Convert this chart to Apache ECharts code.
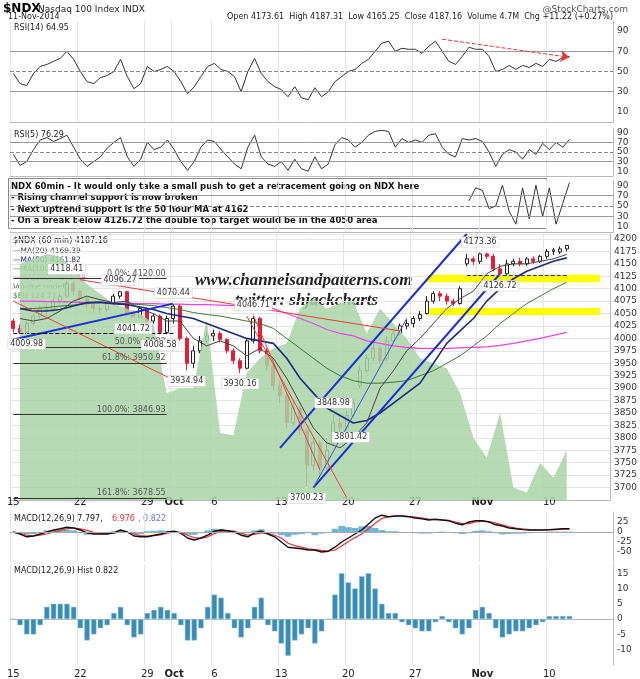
<!DOCTYPE html>
<html><head><meta charset="utf-8">
<script src="https://cdn.jsdelivr.net/npm/echarts@6/dist/echarts.min.js"></script>
<style>html,body{margin:0;padding:0;background:#fff}#c{width:640px;height:679px}</style>
</head><body><div id="c"></div>
<script>
// trading days (two 60-min blocks each drawn as half-day bars)
var days = ['9/15','9/16','9/17','9/18','9/19','9/22','9/23','9/24','9/25','9/26','9/29','9/30','10/1','10/2','10/3',
  '10/6','10/7','10/8','10/9','10/10','10/13','10/14','10/15','10/16','10/17','10/20','10/21','10/22','10/23','10/24',
  '10/27','10/28','10/29','10/30','10/31','11/3','11/4','11/5','11/6','11/7','11/10','11/11','11/12','11/13','11/14'];
var tickLabels = {'9/15':'15','9/22':'22','9/29':'29','10/1':'Oct','10/6':'6','10/13':'13','10/20':'20','10/27':'27','11/3':'Nov','11/10':'10'};

// [open, close, low, high]
var ohlc = [
 [4035,4020,4012,4040],[4020,4012,4010,4028],[4012,4030,4010,4034],[4030,4045,4026,4050],
 [4045,4060,4040,4066],[4060,4055,4045,4070],[4055,4075,4052,4080],[4075,4085,4070,4090],
 [4085,4110,4082,4118],[4110,4095,4088,4115],[4095,4080,4072,4098],[4080,4068,4060,4084],
 [4068,4060,4052,4072],[4060,4058,4050,4066],[4058,4070,4054,4076],[4070,4085,4066,4090],
 [4085,4094,4080,4096],[4094,4050,4045,4096],[4050,4042,4040,4056],[4042,4060,4041,4064],
 [4060,4035,4025,4062],[4035,4045,4030,4050],[4045,4012,4008,4048],[4012,4040,4009,4046],
 [4040,4065,4030,4070],[4065,4000,3995,4068],[4000,3950,3935,4004],[3950,3975,3940,3985],
 [3975,3995,3970,4005],[3995,4005,3990,4012],[4005,4010,3995,4018],[4010,3998,3992,4014],
 [3998,3975,3970,4000],[3975,3955,3948,3980],[3955,3940,3930,3960],[3940,3995,3938,4000],
 [3995,4040,3990,4048],[4040,3975,3970,4044],[3975,3945,3935,3980],[3945,3905,3895,3950],
 [3905,3885,3870,3915],[3885,3830,3820,3890],[3830,3860,3825,3875],[3860,3815,3805,3865],
 [3815,3745,3700,3820],[3745,3790,3735,3801],[3790,3740,3720,3795],[3740,3775,3735,3801],
 [3790,3830,3785,3849],[3830,3820,3800,3840],[3820,3845,3815,3855],[3845,3870,3840,3878],
 [3905,3935,3900,3945],[3935,3960,3930,3968],[3960,3980,3955,3990],[3980,3955,3948,3985],
 [3960,3995,3955,4005],[3995,4010,3990,4020],[4010,4025,4005,4030],[4025,4030,4018,4038],
 [4030,4040,4022,4045],[4040,4048,4035,4055],[4050,4075,4048,4085],[4075,4090,4070,4095],
 [4090,4085,4075,4095],[4085,4075,4068,4090],[4075,4070,4065,4080],[4070,4100,4068,4105],
 [4150,4160,4145,4170],[4160,4155,4148,4165],[4155,4170,4150,4173],[4170,4165,4160,4172],
 [4165,4140,4135,4170],[4140,4130,4127,4150],[4130,4150,4128,4158],[4150,4155,4145,4160],
 [4155,4150,4145,4162],[4150,4160,4146,4164],[4160,4155,4150,4165],[4155,4165,4152,4168],
 [4165,4175,4160,4180],[4175,4178,4168,4182],[4174,4180,4170,4185],[4180,4187,4175,4188]
];
// daily readings
var ma20 = [4040,4035,4040,4055,4075,4085,4078,4072,4075,4060,4050,4035,4035,4000,3985,3995,3985,3965,3980,3960,
  3920,3870,3820,3790,3780,3800,3830,3900,3935,3975,4000,4030,4060,4080,4095,4130,4145,4150,4150,4155,4160,4169];
var ma50 = [4060,4055,4055,4058,4065,4072,4073,4070,4068,4063,4058,4050,4045,4040,4030,4020,4010,4000,3995,3990,
  3960,3920,3890,3860,3845,3830,3835,3850,3870,3890,3910,3950,3990,4015,4040,4075,4100,4120,4135,4145,4155,4162];
var ma100 = [4060,4060,4062,4065,4067,4070,4072,4070,4070,4068,4066,4062,4058,4052,4048,4045,4040,4035,4030,4020,
  4000,3980,3960,3940,3925,3915,3910,3910,3912,3915,3925,3935,3950,3965,3985,4005,4030,4050,4070,4085,4100,4113];
var ma200 = [4075,4075,4074,4074,4073,4072,4072,4071,4071,4070,4070,4069,4069,4068,4068,4067,4066,4066,4065,4060,
  4050,4040,4030,4018,4010,4005,3995,3990,3985,3982,3980,3980,3980,3981,3982,3983,3986,3990,3995,4000,4006,4012];
var euArea = [4150,4160,4170,4165,4140,4110,4090,4070,4060,4050,4030,3890,3900,3900,4040,3810,3805,3930,3960,3980,
  3990,4060,4080,4060,4070,4075,4010,4060,4030,4000,3960,3950,3940,3890,3800,3760,3850,3700,3690,3750,3720,3775];
// half-day readings
var rsi14 = [48,38,36,48,55,57,60,63,70,62,50,40,38,44,46,50,62,45,33,38,55,50,52,55,50,40,28,35,45,55,
  58,52,50,45,30,50,63,48,40,35,32,25,35,24,22,34,25,30,40,45,50,52,58,62,70,78,80,70,73,72,
  72,68,75,80,70,60,57,65,74,72,72,65,50,52,56,52,56,54,58,55,62,60,64,65];
var rsi5 = [45,22,30,55,75,80,72,78,85,60,35,20,30,40,58,70,80,40,20,35,70,55,60,75,55,30,12,30,60,75,
  72,55,40,25,15,60,85,40,25,20,30,12,35,15,10,40,15,25,65,80,75,60,70,85,93,95,93,60,78,70,
  75,70,85,88,60,45,40,78,75,78,72,50,20,45,55,50,35,55,45,68,55,70,60,76];
var rsiBox = [null,null,null,null,null,null,null,null,null,null,null,null,null,null,null,null,null,null,null,null,
  null,null,null,null,null,null,null,null,null,null,null,null,null,null,null,null,null,null,null,null,
  null,null,null,null,null,null,null,null,null,null,null,null,null,null,null,null,null,null,null,null,
  null,null,null,null,null,null,null,null,60,85,80,45,50,90,40,15,85,25,90,30,85,15,55,95];
var macd = [0,-5,-12,-10,-5,0,5,8,12,10,5,-2,-5,-5,-5,-2,5,0,-10,-12,-12,-8,-5,0,2,-3,-15,-20,-15,-8,
  2,5,3,0,-8,-12,-2,2,-5,-12,-25,-38,-40,-42,-45,-45,-50,-48,-38,-25,-15,-5,5,20,35,42,38,40,40,38,
  35,33,30,32,30,28,22,18,25,28,28,25,18,15,10,8,6,5,5,5,6,7,8,8];
var signal = [0,-3,-8,-10,-8,-5,0,4,8,10,8,4,-1,-4,-4,-3,0,0,-5,-9,-10,-9,-7,-3,0,-1,-8,-14,-16,-12,
  -4,2,3,2,-3,-8,-6,-2,-3,-8,-15,-28,-34,-38,-42,-44,-46,-48,-45,-35,-24,-14,-5,8,22,34,38,40,40,39,
  37,35,32,31,30,29,25,21,21,25,27,26,22,18,13,10,8,6,5,5,5,6,7,7];
var hist = [0,-2,-5,-5,-2,4,5,5,5,4,-3,-7,-5,-3,-2,2,4,-2,-6,-5,2,3,4,3,2,-2,-7,-7,-3,4,
  8,7,2,-3,-6,-3,4,7,-2,-4,-8,-12,-7,-5,-3,-8,-4,0,8,15,12,10,14,15,10,5,2,2,-1,-2,
  -3,-4,-4,-1,1,-1,-3,-5,-3,3,4,2,-3,-6,-5,-4,-4,-3,-2,-1,1,1,1,1];

var cats = [];
days.forEach(function (d) { cats.push(d + ' a'); cats.push(d + ' b'); });
function daily(arr) {
    var out = [];
    for (var i = 0; i < cats.length; i++) out.push(null);
    arr.forEach(function (v, i) { out[2 * i + 1] = v; });
    return out;
}
function isTick(idx) {
    var c = cats[idx];
    return c.slice(-1) === 'a' && tickLabels[c.slice(0, -2)] !== undefined;
}
function tickText(v) {
    var t = tickLabels[v.slice(0, -2)];
    return (t === 'Oct' || t === 'Nov') ? '{b|' + t + '}' : t;
}
var grids = [
    {left: 10, right: 27, top: 21, height: 101},
    {left: 10, right: 27, top: 128, height: 48},
    {left: 10, right: 27, top: 180, height: 52},
    {left: 10, right: 27, top: 234, height: 266},
    {left: 10, right: 27, top: 512, height: 50},
    {left: 10, right: 27, top: 564, height: 102}
];
var gridLine = {show: true, lineStyle: {color: '#e4e4e4', width: 1}};
var xAxes = grids.map(function (g, i) {
    var showLab = (i === 4 || i === 5);
    return {
        type: 'category', gridIndex: i, data: cats, boundaryGap: true,
        position: i === 4 ? 'top' : 'bottom',
        axisLine: {lineStyle: {color: '#bbb'}}, axisTick: {show: false},
        axisLabel: {show: showLab, interval: function (idx) { return isTick(idx); }, formatter: tickText,
            fontSize: 10, color: '#222', margin: i === 4 ? 5 : 4, fontFamily: 'DejaVu Sans',
            rich: {b: {fontWeight: 'bold', fontSize: 10}}},
        splitLine: {show: true, interval: function (idx) { return isTick(idx); }, lineStyle: {color: '#e4e4e4'}}
    };
});
function yAx(i, min, max, interval, extra) {
    var a = {
        type: 'value', gridIndex: i, min: min, max: max, interval: interval, position: 'right',
        axisLine: {show: true, lineStyle: {color: '#bbb'}}, axisTick: {show: false},
        axisLabel: {fontSize: 9, color: '#333', margin: 4, showMaxLabel: false, showMinLabel: false,
            formatter: function (v) { return String(v); }},
        splitLine: gridLine
    };
    for (var k in extra) a[k] = extra[k];
    return a;
}
var rsiTicks = {axisLabel: {fontSize: 9, color: '#333', margin: 4, formatter: function (v) {
    return [10, 30, 50, 70, 90].indexOf(v) >= 0 ? v : ''; }}};
var yAxes = [
    yAx(0, 0, 100, 10, rsiTicks),
    yAx(1, 0, 100, 10, rsiTicks),
    yAx(2, 0, 100, 10, rsiTicks),
    yAx(3, 3675, 4210, 25),
    yAx(4, -75, 50, 25),
    yAx(5, -15, 18, 5),
    {type: 'value', gridIndex: 3, min: 3675, max: 4210, show: false}
];
[0, 1, 2, 4, 5].forEach(function (i) { yAxes[i].splitLine = {show: false}; });

function refLines(vals) {
    return {silent: true, symbol: 'none', label: {show: false},
        data: vals.map(function (v) { return {yAxis: v, lineStyle: {color: v === 50 ? '#888' : '#999', type: v === 50 ? 'dashed' : 'solid', width: 1}}; })};
}
var blue = {color: '#1a2fd6', width: 2, type: 'solid'};
var thinBlue = {color: '#3a50e0', width: 1, type: 'solid'};
var red = {color: '#ee3a3a', width: 1, type: 'solid'};
function seg(a, av, b, bv, st) { return [{coord: [a, av], lineStyle: st}, {coord: [b, bv]}]; }
function fib(v, txt) {
    return [{coord: ['9/15 a', v], lineStyle: {color: '#333', width: 1, type: 'solid'},
        label: {show: true, formatter: txt, position: 'insideEndTop', color: '#555', fontSize: 8, distance: 1}}, {coord: ['9/30 b', v]}];
}
function tag(c, v, t, pos) {
    return {coord: [c, v], value: t, symbol: 'rect', symbolSize: [1, 1],
        label: {show: true, formatter: t, position: pos || 'top', fontSize: 8, color: '#333',
            backgroundColor: '#fff', borderColor: '#ccc', borderWidth: 0.5, padding: [1, 2]}};
}

var chart = echarts.init(document.getElementById('c'));
chart.setOption({
    animation: false,
    backgroundColor: '#fff',
    textStyle: {fontFamily: 'DejaVu Sans'},
    grid: grids, xAxis: xAxes, yAxis: yAxes,
    series: [
        {type: 'line', xAxisIndex: 0, yAxisIndex: 0, data: rsi14, symbol: 'none', lineStyle: {color: '#333', width: 1},
            markLine: refLines([30, 50, 70])},
        {type: 'line', xAxisIndex: 0, yAxisIndex: 0, data: [], markLine: {silent: true, symbol: ['none', 'arrow'], symbolSize: 9,
            data: [[{coord: ['10/29 a', 82], lineStyle: {color: '#ee3333', type: 'dashed', width: 1}}, {coord: ['11/11 b', 64]}]]}},
        {type: 'line', xAxisIndex: 1, yAxisIndex: 1, data: rsi5, symbol: 'none', lineStyle: {color: '#333', width: 1},
            markLine: refLines([30, 50, 70])},
        {type: 'line', xAxisIndex: 2, yAxisIndex: 2, data: rsiBox, symbol: 'none', lineStyle: {color: '#333', width: 1},
            markLine: refLines([30, 50, 70])},
        {type: 'line', xAxisIndex: 3, yAxisIndex: 6, data: daily(euArea), symbol: 'none', connectNulls: true,
            lineStyle: {width: 0}, areaStyle: {color: '#a9d3a6', opacity: 0.85}, silent: true,
            markArea: {silent: true, itemStyle: {color: '#ffff00'}, data: [
                [{coord: ['10/28 a', 4128]}, {coord: ['11/14 a', 4113]}],
                [{coord: ['10/28 a', 4061]}, {coord: ['11/14 a', 4047]}]]}},
        {type: 'line', xAxisIndex: 3, yAxisIndex: 3, data: daily(ma200), symbol: 'none', connectNulls: true, lineStyle: {color: '#ee44ee', width: 1.2}},
        {type: 'line', xAxisIndex: 3, yAxisIndex: 3, data: daily(ma100), symbol: 'none', connectNulls: true, lineStyle: {color: '#3c7a32', width: 1}},
        {type: 'line', xAxisIndex: 3, yAxisIndex: 3, data: daily(ma50), symbol: 'none', connectNulls: true, lineStyle: {color: '#1c2a80', width: 1.6}},
        {type: 'line', xAxisIndex: 3, yAxisIndex: 3, data: daily(ma20), symbol: 'none', connectNulls: true, lineStyle: {color: '#444', width: 1}},
        {type: 'candlestick', xAxisIndex: 3, yAxisIndex: 3, data: ohlc.map(function (d) { return [d[0], d[1], d[2], d[3]]; }),
            barMaxWidth: 4,
            itemStyle: {color: '#ffffff', color0: '#e0203a', borderColor: '#222', borderColor0: '#e0203a'},
            markLine: {silent: true, symbol: 'none', label: {show: false}, data: [
                seg('9/15 a', 3998, '10/1 a', 4070, blue),
                seg('9/15 a', 4010, '10/1 a', 4010, {color: '#000', type: 'dashed', width: 1}),
                seg('10/15 b', 3700, '11/4 b', 4130, blue),
                seg('10/13 a', 3780, '10/31 a', 4210, blue),
                seg('10/15 b', 3700, '10/24 b', 4040, thinBlue),
                seg('10/31 a', 4127, '11/11 b', 4127, {color: '#1a2fd6', type: 'dashed', width: 1}),
                seg('9/15 a', 4075, '10/1 b', 3910, red),
                seg('9/22 a', 4118, '10/24 a', 4015, red),
                seg('10/8 b', 4045, '10/20 a', 3680, red),
                seg('10/9 a', 4046, '10/16 a', 3735, red),
                fib(4120, '0.0%: 4120.00'), fib(3983, '50.0%: 3983'), fib(3950, '61.8%: 3950.92'),
                fib(3847, '100.0%: 3846.93'), fib(3679, '161.8%: 3678.55')]},
            markPoint: {silent: true, data: [
                tag('9/19 a', 4118, '4118.41'), tag('9/25 a', 4096, '4096.27'), tag('10/1 a', 4070, '4070.44'),
                tag('9/26 a', 4041, '4041.72', 'bottom'), tag('9/30 a', 4008, '4008.58', 'bottom'), tag('9/16 a', 4010, '4009.98', 'bottom'),
                tag('10/9 a', 4046, '4046.71'), tag('10/2 a', 3935, '3934.94', 'bottom'), tag('10/8 a', 3930, '3930.16', 'bottom'),
                tag('10/16 b', 3801, '3801.42', 'right'), tag('10/17 a', 3849, '3848.98'), tag('10/15 a', 3700, '3700.23', 'bottom'),
                tag('11/3 a', 4173, '4173.36'), tag('11/4 b', 4127, '4126.72', 'bottom')]}},
        {type: 'bar', xAxisIndex: 4, yAxisIndex: 4, data: hist, barWidth: '100%', itemStyle: {color: '#6fb6d4'}, silent: true},
        {type: 'line', xAxisIndex: 4, yAxisIndex: 4, data: signal, symbol: 'none', lineStyle: {color: '#ee3333', width: 1.2}},
        {type: 'line', xAxisIndex: 4, yAxisIndex: 4, data: macd, symbol: 'none', lineStyle: {color: '#111', width: 1.4},
            markLine: {silent: true, symbol: 'none', label: {show: false}, lineStyle: {color: '#aaa', type: 'solid', width: 1}, data: [{yAxis: 0}]}},
        {type: 'bar', xAxisIndex: 5, yAxisIndex: 5, data: hist, barWidth: '80%', itemStyle: {color: '#3a8bb5', borderColor: '#8cc7e0', borderWidth: 0.5}}
    ],
    graphic: [
        {type: 'text', left: 3, top: 3, style: {text: '$NDX', font: 'bold 12px DejaVu Sans', fill: '#000'}},
        {type: 'text', left: 38, top: 5, style: {text: 'Nasdaq 100 Index INDX', font: '9px DejaVu Sans', fill: '#222'}},
        {type: 'text', right: 12, top: 5, style: {text: '@StockCharts.com', font: '9px DejaVu Sans', fill: '#555'}},
        {type: 'text', left: 8, top: 13, style: {text: '11-Nov-2014', font: '8px DejaVu Sans', fill: '#222'}},
        {type: 'text', right: 27, top: 13, style: {text: 'Open 4173.61  High 4187.31  Low 4165.25  Close 4187.16  Volume 4.7M  Chg +11.22 (+0.27%)', font: '8px DejaVu Sans', fill: '#222'}},
        {type: 'text', left: 14, top: 24, style: {text: 'RSI(14) 64.95', font: '8px DejaVu Sans', fill: '#222'}},
        {type: 'text', left: 14, top: 131, style: {text: 'RSI(5) 76.29', font: '8px DejaVu Sans', fill: '#222'}},
        {type: 'rect', left: 8, top: 178, shape: {width: 538, height: 50}, style: {fill: '#fff', stroke: '#888', lineWidth: 1}},
        {type: 'text', left: 11, top: 181, style: {text: 'NDX 60min - It would only take a small push to get a retracement going on NDX here\n- Rising channel support is now broken\n- Next uptrend support is the 50 hour MA at 4162\n- On a break below 4126.72 the double top target would be in the 4050 area', font: 'bold 8.5px DejaVu Sans', fill: '#111', lineHeight: 11.5}},
        {type: 'text', left: 13, top: 237, style: {text: '$NDX (60 min) 4187.16', font: '8px DejaVu Sans', fill: '#222'}},
        {type: 'text', left: 13, top: 247, style: {text: '—MA(20) 4169.39', font: '7.5px DejaVu Sans', fill: '#444'}},
        {type: 'text', left: 13, top: 256, style: {text: '—MA(50) 4161.82', font: '7.5px DejaVu Sans', fill: '#1c2a80'}},
        {type: 'text', left: 13, top: 265, style: {text: '—MA(100) 4113.27', font: '7.5px DejaVu Sans', fill: '#3c7a32'}},
        {type: 'text', left: 13, top: 274, style: {text: '—MA(200) 4011.79', font: '7.5px DejaVu Sans', fill: '#dd33dd'}},
        {type: 'text', left: 13, top: 283, style: {text: 'Volume undef', font: '7.5px DejaVu Sans', fill: '#555'}},
        {type: 'text', left: 13, top: 292, style: {text: '$EU 124.71', font: '7.5px DejaVu Sans', fill: '#3c7a32'}},
        {type: 'text', left: 195, top: 272, style: {text: 'www.channelsandpatterns.com', font: 'italic bold 17px Liberation Serif', fill: '#222'}},
        {type: 'text', left: 235, top: 292, style: {text: 'twitter: shjackcharts', font: 'italic bold 17px Liberation Serif', fill: '#222'}},
        {type: 'text', left: 14, top: 515, style: {text: 'MACD(12,26,9) 7.797, ', font: '8px DejaVu Sans', fill: '#222'}},
        {type: 'text', left: 112, top: 515, style: {text: '6.976', font: '8px DejaVu Sans', fill: '#ee3333'}},
        {type: 'text', left: 138, top: 515, style: {text: ', 0.822', font: '8px DejaVu Sans', fill: '#6677ee'}},
        {type: 'text', left: 14, top: 567, style: {text: 'MACD(12,26,9) Hist 0.822', font: '8px DejaVu Sans', fill: '#222'}}
    ]
});
</script>
</body></html>
